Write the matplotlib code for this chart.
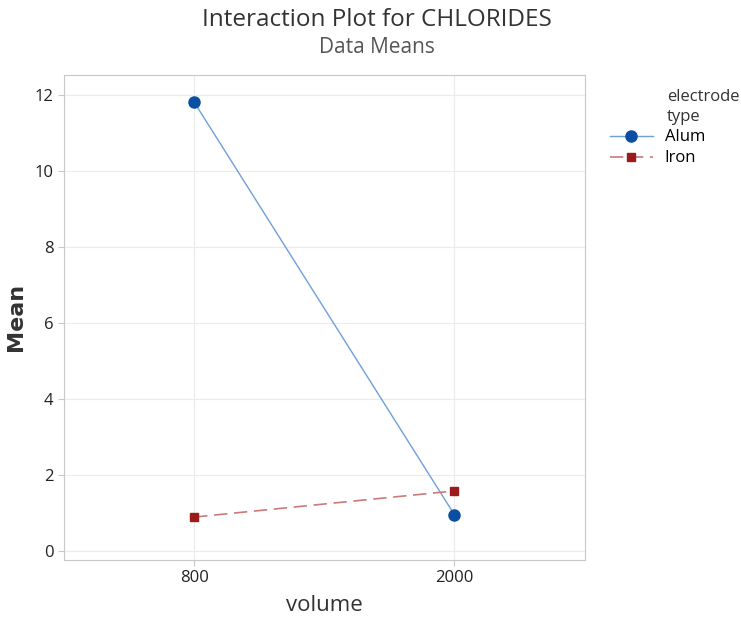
import matplotlib.pyplot as plt

# interaction plot data (means)
volume = ["800", "2000"]
alum_means = [11.82, 0.95]
iron_means = [0.89, 1.58]

plt.rcParams["font.family"] = ["Open Sans", "DejaVu Sans"]

fig = plt.figure(figsize=(7.41, 6.22), dpi=100)
ax = fig.add_axes([0.0864, 0.0997, 0.7026, 0.7793])

x = list(range(1, len(volume) + 1))
ax.plot(x, alum_means, color="#6f9fd8", lw=1, marker="o", ms=8,
        mfc="#0b4fa3", mec="#0b4fa3", label="Alum", zorder=3)
ax.plot(x, iron_means, color="#c77b7b", lw=1.2, ls=(0, (8, 4)), marker="s", ms=6,
        mfc="#9b1a1a", mec="#9b1a1a", label="Iron", zorder=3)

ax.set_xlim(0.5, 2.5)
ax.set_ylim(-0.24, 12.53)
ax.set_xticks(x)
ax.set_xticklabels(volume)
ax.set_yticks(range(0, 13, 2))
ax.grid(True, color="#ebebeb", lw=0.8)
ax.set_axisbelow(True)
for s in ax.spines.values():
    s.set_color("#c8c8c8")
ax.tick_params(colors="#c8c8c8", labelcolor="#222222", labelsize=12, length=4)

ax.set_xlabel("volume", fontsize=16, color="#333333", labelpad=6)
fig.text(0.021, 0.49, "Mean", rotation=90, ha="center", va="center",
         fontsize=16, color="#333333", fontweight="bold", family=["DejaVu Sans"])

fig.text(0.509, 0.968, "Interaction Plot for CHLORIDES", ha="center", va="center",
         fontsize=17.5, color="#333333")
fig.text(0.509, 0.923, "Data Means", ha="center", va="center",
         fontsize=15, color="#555555")

# legend without its own title; title placed above the labels as in the reference
leg = ax.legend(loc="upper left", bbox_to_anchor=(1.035, 0.902),
                frameon=False, fontsize=12, handlelength=2.6,
                borderaxespad=0.0, labelspacing=0.3, handletextpad=0.7)
fig.text(0.900, 0.828, "electrode\ntype", ha="left", va="center",
         fontsize=12, color="#333333", linespacing=1.4)

fig.savefig("out.png", dpi=100)
